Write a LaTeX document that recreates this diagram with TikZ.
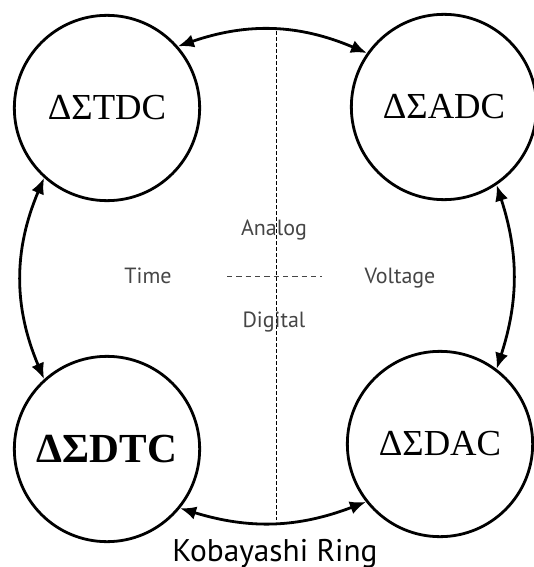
\documentclass[tikz,border=0pt]{standalone}
\usepackage{fontspec}
\setmainfont{Liberation Serif}
\setsansfont{PT Sans}
\usetikzlibrary{arrows.meta}
\definecolor{labelgrau}{HTML}{454545}

\begin{document}
\begin{tikzpicture}[x=0.75pt,y=-0.75pt,>={Latex[length=12pt,width=10pt]},
  wandler/.style={circle,draw,line width=2.1pt,minimum size=139pt,inner sep=0pt,font=\fontsize{27.5}{27.5}\selectfont},
  ring/.style={<->,line width=2.1pt},
  achse/.style={labelgrau,anchor=base,font=\sffamily\fontsize{16.5}{16.5}\selectfont}]

\useasboundingbox (0,0) rectangle (534,567);

%Wandler
\node[wandler] (tdc) at (107,108) {ΔΣTDC};
\node[wandler] (adc) at (444,107) {ΔΣADC};
\node[wandler,font=\bfseries\fontsize{31}{31}\selectfont] (dtc) at (107,449) {ΔΣDTC};
\node[wandler] (dac) at (440,444) {ΔΣDAC};

%Ring
\draw[ring] (tdc.41) to[bend left=21] (adc.145);
\draw[ring] (tdc.228) to[bend right=23] (dtc.132);
\draw[ring] (adc.304) to[bend left=18] (dac.53);
\draw[ring] (dtc.321) to[bend right=19] (dac.218);

%Trennlinien
\coordinate (oben) at (276,31);
\coordinate (unten) at (276,520);
\draw[thin,dash pattern=on 3pt off 1.5pt] (oben) -- (unten);
\coordinate (links) at (227,276);
\coordinate (rechts) at (322,276);
\draw[labelgrau,semithick,dash pattern=on 4pt off 3pt] (links) -- (rechts);

%Beschriftung
\node[achse] (analog) at (274,235) {Analog};
\node[achse] (digital) at (274,327) {Digital};
\node[achse] (zeit) at (148,283) {Time};
\node[achse] (spannung) at (400,283) {Voltage};
\node[anchor=base,font=\sffamily\fontsize{23.5}{23.5}\selectfont] (titel) at (275,561) {Kobayashi Ring};

\end{tikzpicture}
\end{document}
